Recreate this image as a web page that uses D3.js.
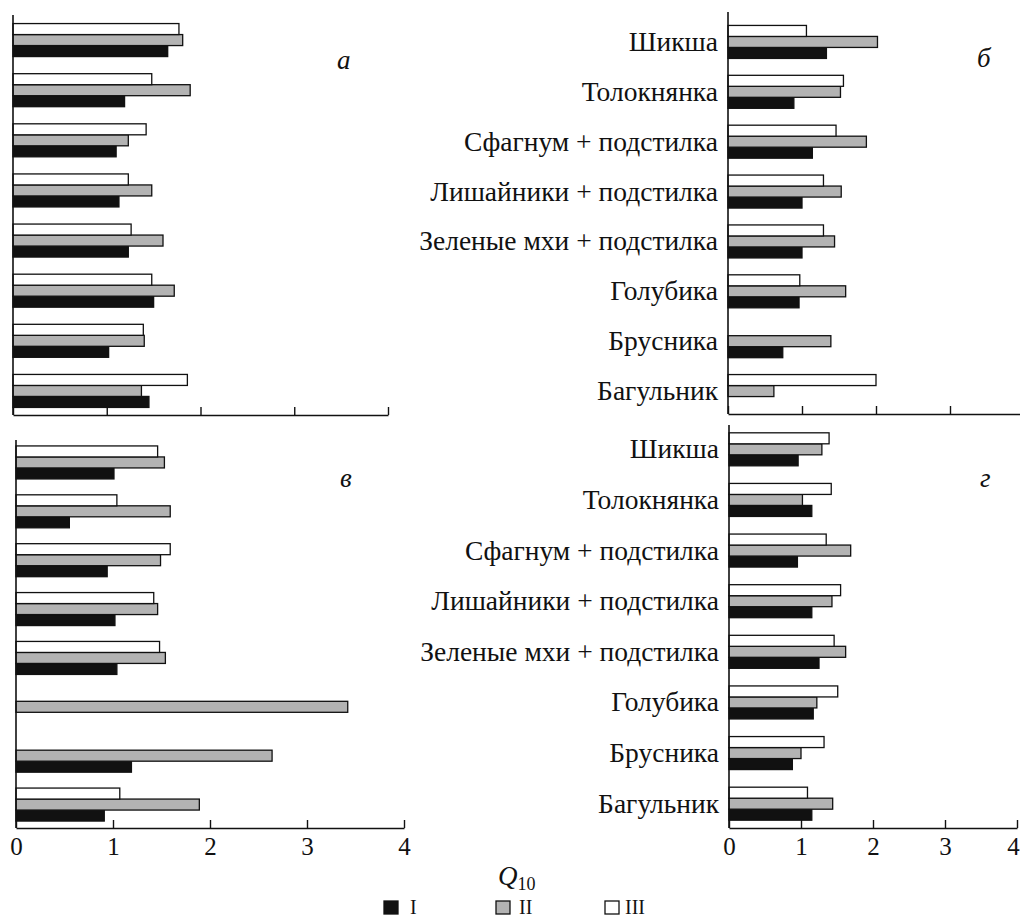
<!DOCTYPE html>
<html>
<head>
<meta charset="utf-8">
<script src="https://cdn.jsdelivr.net/npm/d3@7"></script>
<style>
  html, body { margin: 0; padding: 0; background: #fff; }
  svg { display: block; }
</style>
</head>
<body>
<svg id="chart" width="1020" height="918"></svg>
<script>
// Q10 by ground cover type; series I, II, III for four sites (а, б, в, г)
const categories = [
  "Шикша", "Толокнянка", "Сфагнум + подстилка", "Лишайники + подстилка",
  "Зеленые мхи + подстилка", "Голубика", "Брусника", "Багульник"
];
const seriesNames = ["I", "II", "III"];
const xTicks = [0, 1, 2, 3, 4];

const panelA_I   = [1.65, 1.19, 1.10, 1.13, 1.23, 1.50, 1.02, 1.45];
const panelA_II  = [1.81, 1.89, 1.23, 1.48, 1.60, 1.72, 1.40, 1.37];
const panelA_III = [1.77, 1.48, 1.42, 1.23, 1.26, 1.48, 1.39, 1.86];

const panelB_I   = [1.33, 0.89, 1.14, 1.00, 1.00, 0.96, 0.74, null];
const panelB_II  = [2.02, 1.52, 1.87, 1.53, 1.44, 1.59, 1.39, 0.62];
const panelB_III = [1.06, 1.56, 1.46, 1.29, 1.29, 0.97, null, 2.00];

const panelV_I   = [1.01, 0.55, 0.94, 1.02, 1.04, null, 1.19, 0.91];
const panelV_II  = [1.53, 1.59, 1.49, 1.46, 1.54, 3.42, 2.64, 1.89];
const panelV_III = [1.46, 1.04, 1.59, 1.42, 1.48, null, null, 1.07];

const panelG_I   = [0.96, 1.15, 0.95, 1.15, 1.25, 1.17, 0.88, 1.15];
const panelG_II  = [1.29, 1.02, 1.69, 1.43, 1.62, 1.22, 1.00, 1.44];
const panelG_III = [1.39, 1.42, 1.35, 1.55, 1.46, 1.51, 1.32, 1.09];

const fills = { I: "#111111", II: "#b3b3b3", III: "#ffffff" };
const SERIF = "'Liberation Serif', 'Times New Roman', 'DejaVu Serif', serif";

const svg = d3.select("#chart");

const panels = [
  { letter: "а", series: [panelA_I, panelA_II, panelA_III],
    x0: 13, x1: 388, axisTop: 15, axisY: 415, bandTop: 15, bandBottom: 416,
    showCats: false, showTickLabels: false, letterX: 337, letterY: 69 },
  { letter: "б", series: [panelB_I, panelB_II, panelB_III],
    x0: 728, x1: 1024, axisTop: 12, axisY: 414, bandTop: 17, bandBottom: 416,
    showCats: true, showTickLabels: false, letterX: 977, letterY: 67 },
  { letter: "в", series: [panelV_I, panelV_II, panelV_III],
    x0: 16, x1: 404, axisTop: 440, axisY: 828, bandTop: 438, bandBottom: 829,
    showCats: false, showTickLabels: true, letterX: 340, letterY: 487 },
  { letter: "г", series: [panelG_I, panelG_II, panelG_III],
    x0: 729, x1: 1017, axisTop: 425, axisY: 828, bandTop: 424, bandBottom: 829,
    showCats: true, showTickLabels: true, letterX: 980, letterY: 487 }
];

const barH = 11;
// vertical offset of each series bar from the group centre (III on top, I at bottom)
const slotOffset = { III: -1.5 * barH, II: -0.5 * barH, I: 0.5 * barH };

panels.forEach(p => {
  const x = d3.scaleLinear().domain([0, 4]).range([p.x0, p.x1]);
  const y = d3.scaleBand().domain(categories).range([p.bandTop, p.bandBottom]);
  const g = svg.append("g");

  // bars
  seriesNames.forEach((s, si) => {
    const rows = categories.map((c, i) => ({ c, v: p.series[si][i] })).filter(d => d.v != null);
    g.append("g").selectAll("rect").data(rows).join("rect")
      .attr("x", x(0))
      .attr("y", d => y(d.c) + y.bandwidth() / 2 + slotOffset[s])
      .attr("width", d => x(d.v) - x(0))
      .attr("height", barH)
      .attr("fill", fills[s])
      .attr("stroke", "#111")
      .attr("stroke-width", 1.3);
  });

  // vertical axis line
  g.append("line")
    .attr("x1", x(0)).attr("x2", x(0))
    .attr("y1", p.axisTop).attr("y2", p.axisY)
    .attr("stroke", "#111").attr("stroke-width", 1.6);

  // horizontal axis with inward ticks
  const ax = d3.axisBottom(x).tickValues(xTicks).tickSize(-8).tickSizeOuter(0)
    .tickFormat(p.showTickLabels ? d3.format("d") : () => "");
  const axG = g.append("g").attr("transform", `translate(0,${p.axisY})`).call(ax)
    .attr("font-family", null).attr("font-size", null);
  axG.select(".domain").attr("stroke", "#111").attr("stroke-width", 1.6);
  axG.selectAll(".tick line").attr("stroke", "#111").attr("stroke-width", 1.4);
  axG.selectAll(".tick text")
    .attr("y", 27).attr("dy", 0)
    .attr("dx", d => (p.x1 > 1010 && d === 4) ? -4 : 0)
    .style("font-family", SERIF)
    .style("font-size", "25px").attr("fill", "#111");

  // category labels
  if (p.showCats) {
    g.append("g").selectAll("text").data(categories).join("text")
      .attr("x", p.x0 - 10)
      .attr("y", d => y(d) + y.bandwidth() / 2 + 9)
      .attr("text-anchor", "end")
      .style("font-family", SERIF)
      .style("font-size", "27.5px")
      .attr("fill", "#111")
      .text(d => d);
  }

  // panel letter
  g.append("text")
    .attr("x", p.letterX).attr("y", p.letterY)
    .style("font-family", SERIF)
    .style("font-style", "italic")
    .style("font-size", "27px")
    .attr("fill", "#111")
    .text(p.letter);
});

// axis title Q10
const q = svg.append("text").attr("x", 498).attr("y", 885)
  .style("font-family", SERIF)
  .style("font-size", "27px").attr("fill", "#111");
q.append("tspan").style("font-style", "italic").text("Q");
q.append("tspan").attr("dy", 5).style("font-size", "18px").text("10");

// legend
const legendItems = [
  { name: "I", sx: 384, tx: 410 },
  { name: "II", sx: 496, tx: 519 },
  { name: "III", sx: 605, tx: 625 }
];
const lg = svg.append("g");
lg.selectAll("rect").data(legendItems).join("rect")
  .attr("x", d => d.sx).attr("y", 901)
  .attr("width", 14).attr("height", 13)
  .attr("fill", d => fills[d.name])
  .attr("stroke", "#111").attr("stroke-width", 1.3);
lg.selectAll("text").data(legendItems).join("text")
  .attr("x", d => d.tx).attr("y", 914)
  .style("font-family", SERIF)
  .style("font-size", "20px")
  .attr("fill", "#111")
  .text(d => d.name);
</script>
</body>
</html>
